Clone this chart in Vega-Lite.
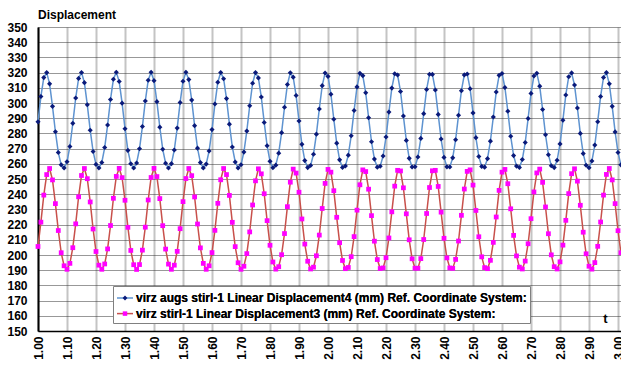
{
"$schema": "https://vega.github.io/schema/vega-lite/v6.json",
"width": 583, "height": 304,
"autosize": {"type": "none"},
"padding": {"left": 38, "top": 27, "right": 0, "bottom": 37},
"background": "white",
"config": {"view": {"stroke": null}, "font": "Liberation Sans"},
"title": {"text": "Displacement", "anchor": "start", "frame": "group", "offset": -1, "fontSize": 12, "fontWeight": "bold", "font": "Liberation Sans", "color": "black"},
"data": {"values": [
{"t":1.00,"a":287.6,"b":205.6},{"t":1.01,"a":304.3,"b":221.6},{"t":1.02,"a":316.7,"b":239.4},{"t":1.03,"a":320.0,"b":252.9},{"t":1.04,"a":312.6,"b":256.9},{"t":1.05,"a":297.8,"b":249.4},{"t":1.06,"a":281.1,"b":233.8},{"t":1.07,"a":267.4,"b":216.1},{"t":1.08,"a":259.3,"b":201.5},{"t":1.09,"a":257.3,"b":192.9},{"t":1.10,"a":261.3,"b":190.6},{"t":1.11,"a":271.4,"b":194.5},
{"t":1.12,"a":286.6,"b":204.8},{"t":1.13,"a":303.3,"b":220.5},{"t":1.14,"a":316.2,"b":238.3},{"t":1.15,"a":320.1,"b":252.3},{"t":1.16,"a":313.4,"b":256.9},{"t":1.17,"a":298.8,"b":250.2},{"t":1.18,"a":282.1,"b":234.9},{"t":1.19,"a":268.1,"b":217.1},{"t":1.20,"a":259.6,"b":202.3},{"t":1.21,"a":257.3,"b":193.3},{"t":1.22,"a":260.9,"b":190.6},{"t":1.23,"a":270.7,"b":194.1},
{"t":1.24,"a":285.5,"b":204.0},{"t":1.25,"a":302.3,"b":219.4},{"t":1.26,"a":315.6,"b":237.3},{"t":1.27,"a":320.2,"b":251.7},{"t":1.28,"a":314.1,"b":257.0},{"t":1.29,"a":299.9,"b":250.9},{"t":1.30,"a":283.1,"b":236.0},{"t":1.31,"a":268.8,"b":218.2},{"t":1.32,"a":260.0,"b":203.0},{"t":1.33,"a":257.2,"b":193.6},{"t":1.34,"a":260.5,"b":190.5},{"t":1.35,"a":269.9,"b":193.7},
{"t":1.36,"a":284.5,"b":203.2},{"t":1.37,"a":301.3,"b":218.3},{"t":1.38,"a":315.0,"b":236.2},{"t":1.39,"a":320.2,"b":251.0},{"t":1.40,"a":314.7,"b":257.0},{"t":1.41,"a":300.9,"b":251.6},{"t":1.42,"a":284.1,"b":237.1},{"t":1.43,"a":269.6,"b":219.3},{"t":1.44,"a":260.4,"b":203.9},{"t":1.45,"a":257.2,"b":194.0},{"t":1.46,"a":260.1,"b":190.6},{"t":1.47,"a":269.1,"b":193.3},
{"t":1.48,"a":283.5,"b":202.4},{"t":1.49,"a":300.3,"b":217.3},{"t":1.50,"a":314.3,"b":235.1},{"t":1.51,"a":320.2,"b":250.3},{"t":1.52,"a":315.4,"b":256.9},{"t":1.53,"a":301.9,"b":252.2},{"t":1.54,"a":285.1,"b":238.2},{"t":1.55,"a":270.3,"b":220.4},{"t":1.56,"a":260.8,"b":204.7},{"t":1.57,"a":257.3,"b":194.5},{"t":1.58,"a":259.8,"b":190.6},{"t":1.59,"a":268.4,"b":192.9},
{"t":1.60,"a":282.5,"b":201.6},{"t":1.61,"a":299.3,"b":216.2},{"t":1.62,"a":313.7,"b":234.0},{"t":1.63,"a":320.1,"b":249.5},{"t":1.64,"a":316.0,"b":256.9},{"t":1.65,"a":302.9,"b":252.9},{"t":1.66,"a":286.1,"b":239.2},{"t":1.67,"a":271.1,"b":221.5},{"t":1.68,"a":261.2,"b":205.5},{"t":1.69,"a":257.3,"b":194.9},{"t":1.70,"a":259.4,"b":190.6},{"t":1.71,"a":267.7,"b":192.6},
{"t":1.72,"a":281.5,"b":200.9},{"t":1.73,"a":298.2,"b":215.2},{"t":1.74,"a":313.0,"b":232.9},{"t":1.75,"a":320.0,"b":248.8},{"t":1.76,"a":316.5,"b":256.7},{"t":1.77,"a":303.9,"b":253.4},{"t":1.78,"a":287.2,"b":240.3},{"t":1.79,"a":271.9,"b":222.6},{"t":1.80,"a":261.6,"b":206.4},{"t":1.81,"a":257.4,"b":195.4},{"t":1.82,"a":259.1,"b":190.7},{"t":1.83,"a":267.0,"b":192.3},
{"t":1.84,"a":280.5,"b":200.2},{"t":1.85,"a":297.2,"b":214.1},{"t":1.86,"a":312.2,"b":231.8},{"t":1.87,"a":319.9,"b":247.9},{"t":1.88,"a":317.0,"b":256.5},{"t":1.89,"a":304.9,"b":253.9},{"t":1.90,"a":288.2,"b":241.3},{"t":1.91,"a":272.8,"b":223.7},{"t":1.92,"a":262.1,"b":207.2},{"t":1.93,"a":257.5,"b":195.9},{"t":1.94,"a":258.9,"b":190.8},{"t":1.95,"a":266.3,"b":192.0},
{"t":1.96,"a":279.5,"b":199.5},{"t":1.97,"a":296.1,"b":213.1},{"t":1.98,"a":311.4,"b":230.6},{"t":1.99,"a":319.7,"b":247.1},{"t":2.00,"a":317.5,"b":256.3},{"t":2.01,"a":305.8,"b":254.5},{"t":2.02,"a":289.3,"b":242.3},{"t":2.03,"a":273.6,"b":224.8},{"t":2.04,"a":262.6,"b":208.1},{"t":2.05,"a":257.6,"b":196.4},{"t":2.06,"a":258.6,"b":191.0},{"t":2.07,"a":265.7,"b":191.8},
{"t":2.08,"a":278.5,"b":198.9},{"t":2.09,"a":295.1,"b":212.1},{"t":2.10,"a":310.6,"b":229.5},{"t":2.11,"a":319.5,"b":246.2},{"t":2.12,"a":318.0,"b":256.0},{"t":2.13,"a":306.7,"b":254.9},{"t":2.14,"a":290.3,"b":243.3},{"t":2.15,"a":274.5,"b":225.9},{"t":2.16,"a":263.1,"b":209.1},{"t":2.17,"a":257.7,"b":197.0},{"t":2.18,"a":258.4,"b":191.1},{"t":2.19,"a":265.1,"b":191.5},
{"t":2.20,"a":277.6,"b":198.2},{"t":2.21,"a":294.0,"b":211.2},{"t":2.22,"a":309.8,"b":228.4},{"t":2.23,"a":319.2,"b":245.3},{"t":2.24,"a":318.4,"b":255.7},{"t":2.25,"a":307.6,"b":255.3},{"t":2.26,"a":291.4,"b":244.2},{"t":2.27,"a":275.4,"b":227.1},{"t":2.28,"a":263.6,"b":210.0},{"t":2.29,"a":257.9,"b":197.5},{"t":2.30,"a":258.1,"b":191.3},{"t":2.31,"a":264.5,"b":191.3},
{"t":2.32,"a":276.7,"b":197.6},{"t":2.33,"a":293.0,"b":210.2},{"t":2.34,"a":308.9,"b":227.3},{"t":2.35,"a":318.9,"b":244.4},{"t":2.36,"a":318.8,"b":255.4},{"t":2.37,"a":308.6,"b":255.7},{"t":2.38,"a":292.5,"b":245.1},{"t":2.39,"a":276.3,"b":228.2},{"t":2.40,"a":264.2,"b":211.0},{"t":2.41,"a":258.0,"b":198.1},{"t":2.42,"a":257.9,"b":191.5},{"t":2.43,"a":263.9,"b":191.2},
{"t":2.44,"a":275.8,"b":197.1},{"t":2.45,"a":291.9,"b":209.2},{"t":2.46,"a":308.1,"b":226.1},{"t":2.47,"a":318.5,"b":243.4},{"t":2.48,"a":319.1,"b":255.0},{"t":2.49,"a":309.4,"b":256.0},{"t":2.50,"a":293.5,"b":246.0},{"t":2.51,"a":277.2,"b":229.3},{"t":2.52,"a":264.8,"b":212.0},{"t":2.53,"a":258.3,"b":198.8},{"t":2.54,"a":257.8,"b":191.7},{"t":2.55,"a":263.4,"b":191.0},
{"t":2.56,"a":274.9,"b":196.5},{"t":2.57,"a":290.8,"b":208.3},{"t":2.58,"a":307.2,"b":225.0},{"t":2.59,"a":318.2,"b":242.5},{"t":2.60,"a":319.4,"b":254.5},{"t":2.61,"a":310.2,"b":256.3},{"t":2.62,"a":294.6,"b":246.9},{"t":2.63,"a":278.1,"b":230.4},{"t":2.64,"a":265.4,"b":212.9},{"t":2.65,"a":258.5,"b":199.4},{"t":2.66,"a":257.6,"b":192.0},{"t":2.67,"a":262.8,"b":190.8},
{"t":2.68,"a":274.0,"b":196.0},{"t":2.69,"a":289.8,"b":207.4},{"t":2.70,"a":306.3,"b":223.9},{"t":2.71,"a":317.8,"b":241.5},{"t":2.72,"a":319.6,"b":254.0},{"t":2.73,"a":311.1,"b":256.5},{"t":2.74,"a":295.7,"b":247.8},{"t":2.75,"a":279.1,"b":231.6},{"t":2.76,"a":266.0,"b":214.0},{"t":2.77,"a":258.7,"b":200.1},{"t":2.78,"a":257.5,"b":192.3},{"t":2.79,"a":262.3,"b":190.8},
{"t":2.80,"a":273.1,"b":195.5},{"t":2.81,"a":288.7,"b":206.5},{"t":2.82,"a":305.3,"b":222.8},{"t":2.83,"a":317.3,"b":240.4},{"t":2.84,"a":319.8,"b":253.5},{"t":2.85,"a":311.8,"b":256.7},{"t":2.86,"a":296.7,"b":248.6},{"t":2.87,"a":280.0,"b":232.7},{"t":2.88,"a":266.7,"b":215.0},{"t":2.89,"a":259.0,"b":200.8},{"t":2.90,"a":257.4,"b":192.6},{"t":2.91,"a":261.8,"b":190.7},
{"t":2.92,"a":272.3,"b":195.0},{"t":2.93,"a":287.7,"b":205.7},{"t":2.94,"a":304.3,"b":221.7},{"t":2.95,"a":316.8,"b":239.4},{"t":2.96,"a":320.0,"b":253.0},{"t":2.97,"a":312.6,"b":256.9},{"t":2.98,"a":297.8,"b":249.4},{"t":2.99,"a":281.0,"b":233.8},{"t":3.00,"a":267.4,"b":216.0},{"t":3.01,"a":259.3,"b":201.5}
]},
"encoding": {
  "x": {"field": "t", "type": "quantitative", "scale": {"domain": [1, 3.0103], "nice": false, "zero": false},
    "axis": {"values": [1,1.1,1.2,1.3,1.4,1.5,1.6,1.7,1.8,1.9,2,2.1,2.2,2.3,2.4,2.5,2.6,2.7,2.8,2.9,3], "format": ".2f", "labelAngle": -90,
      "labelFont": "Liberation Sans", "labelFontWeight": "bold", "labelFontSize": 12, "labelColor": "black", "labelPadding": 5,
      "labelFlush": false, "labelOverlap": false, "ticks": false,
      "grid": true, "gridColor": "#c4c4c4", "gridWidth": 2, "domainColor": "black", "domainWidth": 1.5,
      "title": "t", "titleX": 567, "titleY": -13, "titleFont": "Liberation Sans", "titleFontSize": 13, "titleFontWeight": "bold", "titleColor": "black", "titleBaseline": "middle", "titleAlign": "center"}},
  "y": {"field": "v", "type": "quantitative", "scale": {"domain": [150, 350], "nice": false, "zero": false},
    "axis": {"values": [150,160,170,180,190,200,210,220,230,240,250,260,270,280,290,300,310,320,330,340,350],
      "labelFont": "Liberation Sans", "labelFontWeight": "bold", "labelFontSize": 12, "labelColor": "black", "labelPadding": 11,
      "labelFlush": false, "labelOverlap": false, "ticks": false,
      "grid": true, "gridColor": "#303030", "gridDash": [1, 1], "gridWidth": 1, "domainColor": "black", "domainWidth": 2, "title": null}}
},
"layer": [
  {"transform": [{"fold": ["a", "b"], "as": ["s", "v"]}],
   "mark": {"type": "line", "strokeWidth": 1.5},
   "encoding": {"color": {"field": "s", "type": "nominal", "scale": {"range": ["#5e93d0", "#c8504b"]},
     "legend": {"orient": "none", "legendX": 75, "legendY": 259, "title": null, "symbolType": "stroke", "symbolSize": 256, "symbolStrokeWidth": 1.5,
       "labelFont": "Liberation Sans", "labelFontSize": 12, "labelFontWeight": "bold", "labelColor": "black", "labelLimit": 600, "labelOffset": 2,
       "labelExpr": "datum.value == 'a' ? 'virz augs stirl-1 Linear Displacement4 (mm) Ref. Coordinate System:' : 'virz stirl-1 Linear Displacement3 (mm) Ref. Coordinate System:'",
       "fillColor": "white", "strokeColor": "#808080", "padding": 3, "rowPadding": 0.6}}}},
  {"transform": [{"fold": ["a", "b"], "as": ["p", "v"]}],
   "mark": {"type": "point", "filled": true, "size": 289, "strokeWidth": 0, "opacity": 1},
   "encoding": {
     "fill": {"field": "p", "type": "nominal", "scale": {"range": ["#0a1a7a", "#ff00ff"]},
       "legend": {"orient": "none", "legendX": 75, "legendY": 259, "title": null, "symbolSize": 256, "symbolStrokeWidth": 1.5, "symbolStrokeColor": "transparent", "symbolOpacity": 1,
         "labelFont": "Liberation Sans", "labelFontSize": 12, "labelFontWeight": "bold", "labelColor": "black", "labelLimit": 600, "labelOffset": 2,
         "labelExpr": "datum.value == 'a' ? 'virz augs stirl-1 Linear Displacement4 (mm) Ref. Coordinate System:' : 'virz stirl-1 Linear Displacement3 (mm) Ref. Coordinate System:'",
         "padding": 3, "rowPadding": 0.6}},
     "shape": {"field": "p", "type": "nominal", "scale": {"range": ["M0,-0.3L0.3,0L0,0.3L-0.3,0Z", "M-0.28,-0.28L0.28,-0.28L0.28,0.28L-0.28,0.28Z"]},
       "legend": {"orient": "none", "legendX": 75, "legendY": 259, "title": null, "symbolSize": 256, "symbolStrokeWidth": 1.5, "symbolStrokeColor": "transparent", "symbolOpacity": 1,
         "labelFont": "Liberation Sans", "labelFontSize": 12, "labelFontWeight": "bold", "labelColor": "black", "labelLimit": 600, "labelOffset": 2,
         "labelExpr": "datum.value == 'a' ? 'virz augs stirl-1 Linear Displacement4 (mm) Ref. Coordinate System:' : 'virz stirl-1 Linear Displacement3 (mm) Ref. Coordinate System:'",
         "padding": 3, "rowPadding": 0.6}}
   }}
]
}
